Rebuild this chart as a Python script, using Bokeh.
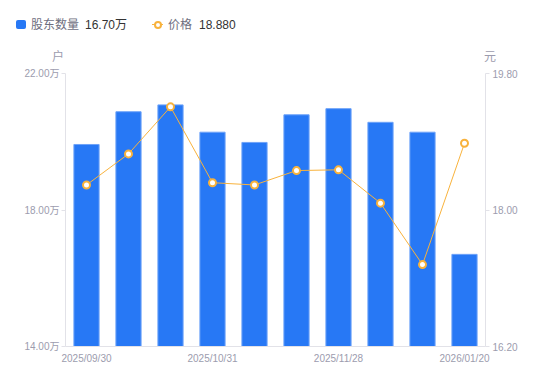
from bokeh.plotting import figure
from bokeh.models import Range1d, LinearAxis, FixedTicker, PrintfTickFormatter, Div
from bokeh.layouts import column
from bokeh.embed import file_html
from bokeh.resources import INLINE

# ---- data ----
dates = ["2025/09/30", "2025/10/10", "2025/10/20", "2025/10/31", "2025/11/10",
         "2025/11/20", "2025/11/28", "2025/12/10", "2025/12/31", "2026/01/20"]
holders = [19.92, 20.88, 21.08, 20.28, 19.98, 20.79, 20.97, 20.57, 20.28, 16.70]  # 万户
price = [18.33, 18.74, 19.36, 18.36, 18.33, 18.52, 18.53, 18.09, 17.28, 18.88]
shown_ticks = [0, 3, 6, 9]
left_ticks = [14.0, 18.0, 22.0]
right_ticks = [16.2, 18.0, 19.8]
holders_name = "股东数量"
price_name = "价格"
left_unit = "户"
right_unit = "元"

FONT = "Liberation Sans, Noto Sans CJK SC"
BLUE = "#2778f5"
ORANGE = "#f8b23c"
AXIS = "#e2e2e8"
LABEL = "#9c9cae"

xs = list(range(len(dates)))

W, H = 550, 381
HDR = 65                             # header height
FL, FR, FT, FB = 65, 485, 73, 346    # frame edges in page px

x0, x1 = -0.5, len(dates) - 0.5
y0, y1 = left_ticks[0], left_ticks[-1]

# ---- header (legend + unit captions) as HTML ----
def span(left, top, content, style):
    return ('<span style="position:absolute;box-sizing:border-box;left:%spx;top:%spx;'
            'white-space:nowrap;%s">%s</span>' % (left, top, style, content))

tstyle = "font-size:12px;line-height:14px;color:%s;"
html = ('<div style="position:relative;width:%dpx;height:%dpx;font-family:\'Liberation Sans\','
        '\'Noto Sans CJK SC\',sans-serif;">' % (W, HDR))
html += span(16, 20, "", "width:10px;height:9px;background:%s;border-radius:2px;" % BLUE)
html += span(31, 17.5, holders_name, tstyle % "#6e6e7e")
html += span(85, 17.5, "%.2f万" % holders[-1], tstyle % "#333333")
html += span(152, 24, "", "width:11px;height:1px;background:%s;" % ORANGE)
html += span(153.5, 20.5, "", "width:8px;height:8px;border:2px solid %s;border-radius:50%%;"
             "background:#fff;" % ORANGE)
html += span(168, 17.5, price_name, tstyle % "#6e6e7e")
html += span(199, 17.5, "%.3f" % price[-1], tstyle % "#333333")
html += span(52, 50, left_unit, tstyle % LABEL)
html += span(484, 50, right_unit, tstyle % LABEL)
html += "</div>"
hdr = Div(text=html, width=W, height=HDR, margin=0)

# ---- main chart ----
p = figure(width=W, height=H - HDR, x_range=Range1d(x0, x1), y_range=Range1d(y0, y1),
           output_backend="svg", toolbar_location=None, y_axis_location=None,
           x_axis_location=None, margin=0,
           min_border_left=FL, min_border_right=W - FR, min_border_top=FT - HDR,
           min_border_bottom=H - FB)
p.extra_y_ranges = {"price": Range1d(right_ticks[0], right_ticks[-1])}
p.grid.visible = False
p.outline_line_color = None

def style(ax):
    ax.axis_line_color = AXIS
    ax.major_tick_line_color = AXIS
    ax.minor_tick_line_color = None
    ax.major_label_text_color = LABEL
    ax.major_label_text_font = FONT
    ax.major_label_text_font_size = "10px"

yl = LinearAxis(ticker=FixedTicker(ticks=left_ticks), formatter=PrintfTickFormatter(format="%.2f万"))
style(yl)
yl.major_tick_out = 4
yl.major_tick_in = 0
yl.major_label_standoff = 2
p.add_layout(yl, "left")

yr = LinearAxis(y_range_name="price", ticker=FixedTicker(ticks=right_ticks),
                formatter=PrintfTickFormatter(format="%.2f"))
style(yr)
yr.major_tick_out = 4
yr.major_tick_in = 0
yr.major_label_standoff = 3
p.add_layout(yr, "right")

xa = LinearAxis(ticker=FixedTicker(ticks=shown_ticks),
                major_label_overrides={i: dates[i] for i in shown_ticks})
style(xa)
xa.major_tick_out = 0
xa.major_tick_in = 0
xa.major_label_standoff = 6
p.add_layout(xa, "below")

p.vbar(x=xs, top=holders, bottom=y0, width=0.6, fill_color=BLUE,
       line_color="#6fa3f8", line_width=1)
p.line(x=xs, y=price, y_range_name="price", line_color=ORANGE, line_width=1)
p.scatter(x=xs, y=price, y_range_name="price", size=7, fill_color="white",
          line_color=ORANGE, line_width=2)

layout = column(hdr, p, spacing=0, margin=0)
open("out.html", "w").write(file_html(layout, INLINE))
